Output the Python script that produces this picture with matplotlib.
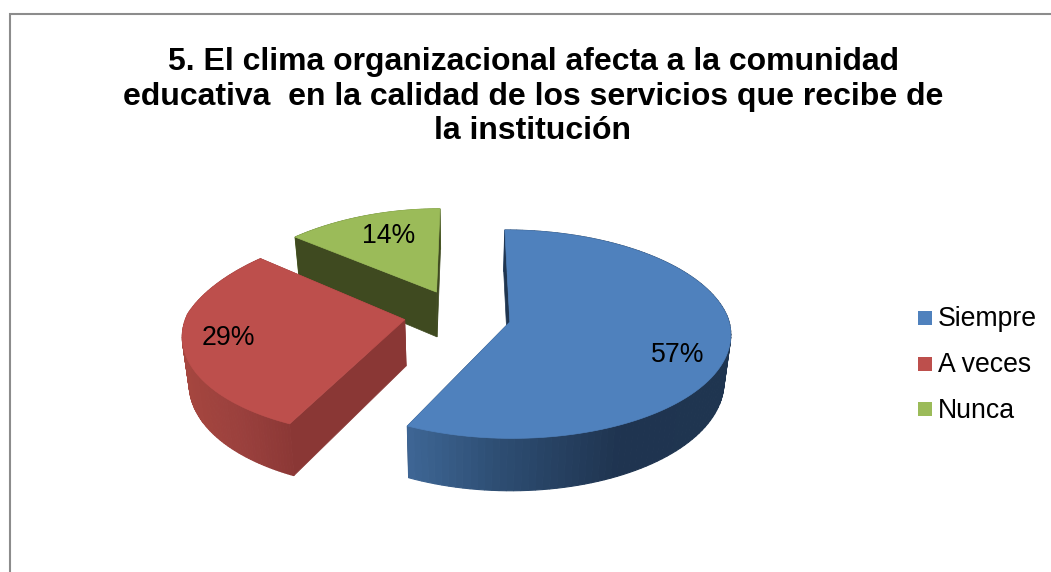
import numpy as np
import matplotlib
matplotlib.use("Agg")
import matplotlib.pyplot as plt
from matplotlib.colors import to_rgb
from matplotlib.patches import Rectangle

plt.rcParams['font.family'] = ['Liberation Sans', 'DejaVu Sans']

title = "5. El clima organizacional afecta a la comunidad\neducativa  en la calidad de los servicios que recibe de\nla institución"
categories = ["Siempre", "A veces", "Nunca"]
values = [57, 29, 14]
top_colors = ["#4f81bd", "#bd4f4c", "#9bbb59"]
cut_colors = ["#1f3550", "#8a3735", "#3f4a20"]

# rim shading, dark/light stops along the screen x
rim_stops = [
    ([408, 500, 620, 735], ["#3e6695", "#2d4d72", "#1f3450", "#1f3550"]),
    ([185, 240, 295], ["#a5463f", "#9a403d", "#8a3735"]),
    ([296, 440], ["#5f7a30", "#7d9a45"]),
]
label_pos = [(678, 355), (228, 338), (389, 236)]
explode = [50, 57, 55]
shift_x = [0, 0, -2]
shift_y = [0, -3, -3]
depth_r = [225, 225, 215]

# projection of the pie plane to the screen
X0, Yh = 460, 317
RX = 218
P = 0.000518
K = 0.4516
H = 46
CU = 1


def project(u, v):
    s = 1 / (1 - P * v)
    # far left side closes in a bit more, near side leans left
    sx = np.where((u < 0) & (v < 0), s * (1 + 0.00033 * v), s)
    return X0 + u * sx - 0.02 * np.maximum(v, 0), Yh + v * K * s, s


def low(x, y, s):
    # lower edge of the wall, pulled a bit to the view centre
    return X0 + (x - X0) * 0.975, y + H * s


def shade(x, stops):
    xs, cols = stops
    rgb = np.array([to_rgb(c) for c in cols])
    return [np.interp(x, xs, rgb[:, i]) for i in range(3)]


fig = plt.figure(figsize=(10.51, 5.72), dpi=100)
ax = fig.add_axes([0, 0, 1, 1])
ax.set_xlim(0, 1051)
ax.set_ylim(572, 0)
ax.axis("off")

# chart frame, cut by the right and bottom of the image
ax.plot([10, 10, 1051], [572, 14, 14], color="#8c8c8c", lw=1.5, solid_joinstyle="miter")

edges = np.cumsum([0] + values) / sum(values) * 2 * np.pi

# far slices first
for i in [2, 1, 0]:
    a0, a1 = edges[i], edges[i + 1]
    mid = (a0 + a1) / 2
    u0 = CU + explode[i] * np.sin(mid)
    v0 = -explode[i] * np.cos(mid)
    t = np.linspace(a0, a1, 120)
    u = u0 + RX * np.sin(t)
    v = v0 - depth_r[i] * np.cos(t)
    x, y, s = project(u, v)
    x = x + shift_x[i]
    y = y + shift_y[i]
    ax_, ay, a_s = project(u0, v0)
    ax_ = ax_ + shift_x[i]
    ay = ay + shift_y[i]
    bx, by = low(x, y, s)
    abx, aby = low(ax_, ay, a_s)

    # rim, one small quad per step so the shading can run along it
    far = [j for j in range(len(t) - 1) if np.cos(t[j]) > 0]
    near = [j for j in range(len(t) - 1) if np.cos(t[j]) <= 0]
    for j in far:
        c = shade((x[j] + x[j + 1]) / 2, rim_stops[i])
        ax.fill([x[j], x[j + 1], bx[j + 1], bx[j]], [y[j], y[j + 1], by[j + 1], by[j]], color=c, lw=0.8)

    # cut faces
    ax.fill([ax_, x[0], bx[0], abx], [ay, y[0], by[0], aby], color=cut_colors[i], lw=0.5)
    ax.fill([ax_, x[-1], bx[-1], abx], [ay, y[-1], by[-1], aby], color=cut_colors[i], lw=0.5)

    for j in near:
        c = shade((x[j] + x[j + 1]) / 2, rim_stops[i])
        ax.fill([x[j], x[j + 1], bx[j + 1], bx[j]], [y[j], y[j + 1], by[j + 1], by[j]], color=c, lw=0.8)

    # top
    ax.fill(np.r_[ax_, x], np.r_[ay, y], color=top_colors[i], lw=0.5)

for i, v in enumerate(values):
    ax.text(label_pos[i][0], label_pos[i][1], f"{v}%", fontsize=19.2, color="black", ha="center", va="center")

ax.text(533, 96.5, title, fontsize=23, fontweight="bold", ha="center", va="center", linespacing=1.2, color="black")

# legend
leg_y = [318, 364, 409]
for i, name in enumerate(categories):
    ax.add_patch(Rectangle((918, leg_y[i] - 7), 14, 14, color=top_colors[i], lw=0))
    ax.text(938, leg_y[i] + 1.5, name, fontsize=19.2, ha="left", va="center", color="black")

fig.savefig("out.png", dpi=100)
